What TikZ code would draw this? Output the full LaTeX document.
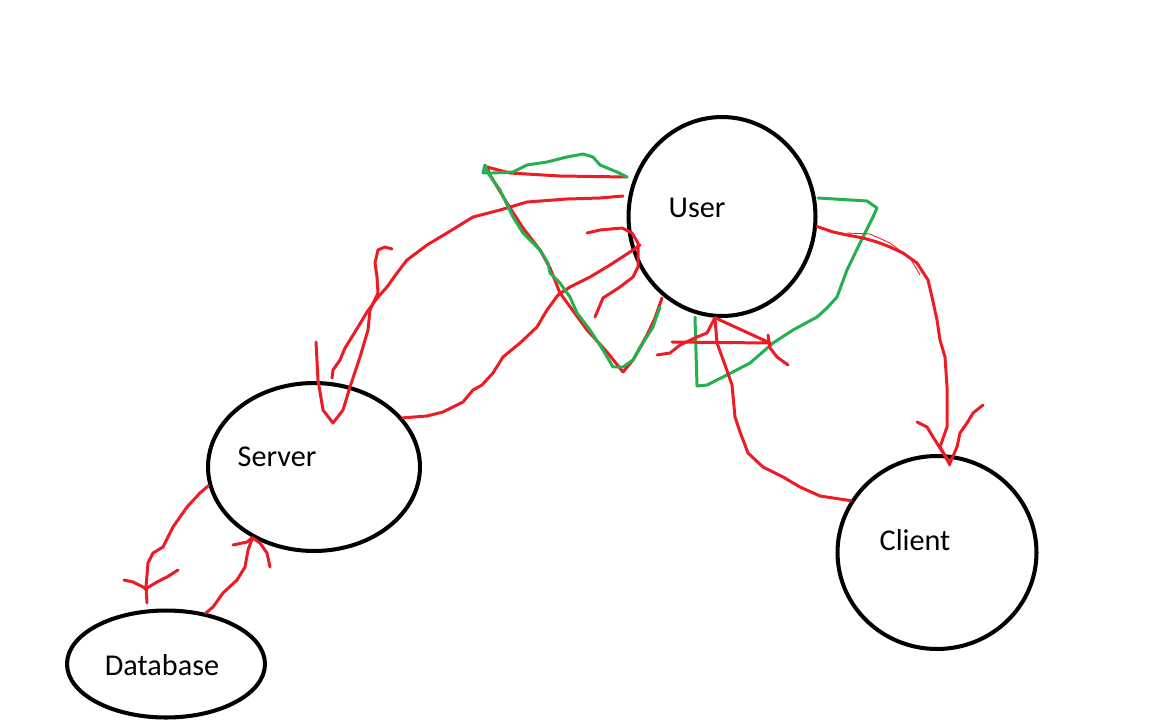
\documentclass[tikz,border=0pt]{standalone}
\usepackage{fontspec}
\setmainfont{Carlito}
\usetikzlibrary{shapes.geometric,positioning,calc}
\definecolor{paintred}{RGB}{237,28,36}
\definecolor{paintgreen}{RGB}{34,177,76}
\tikzset{
	%Define style for the bubbles
	ring/.style={
		ellipse,
		draw=black, line width=2.3pt,
		inner sep=0pt},
	mylabel/.style={inner sep=0pt, font=\fontsize{17.2}{21}\selectfont},
	% Define pen styles
	redpen/.style={draw=paintred, line width=1.7pt, line join=round, line cap=round},
	greenpen/.style={draw=paintgreen, line width=1.7pt, line join=round, line cap=round},
	hairpen/.style={draw=paintred, line width=0.5pt, line join=round}
}
\begin{document}
\begin{tikzpicture}[x=0.02cm,y=-0.02cm]
	\fill[white] (0,0) rectangle (1152,720);
	\useasboundingbox (0,0) rectangle (1152,720);
	% the bubbles
	\node[ring, minimum width=3.74cm, minimum height=3.98cm] (user) at (722,216.5) {};
	\node[ring, minimum width=4.24cm, minimum height=3.36cm] (server) at (314,467) {};
	\node[ring, minimum width=3.98cm, minimum height=3.86cm] (client) at (937,552.5) {};
	\node[ring, minimum width=3.96cm, minimum height=2.14cm] (database) at (166,664) {};
	\node[mylabel] (userlabel) at (697,208) {User};
	\node[mylabel] (serverlabel) at (277,457) {Server};
	\node[mylabel] (clientlabel) at (915,540) {Client};
	\node[mylabel] (databaselabel) at (162,665) {Database};
	% Server to Database
	\draw[redpen] (server.190) -- (200,493) -- (187,507) -- (173,527) -- (163,547) -- (153,553) -- (148,563) -- (146,587) -- (147,603);
	\draw[redpen] (124,580) -- (133,582) -- (143,587) -- (147,590);
	\draw[redpen] (178,570) -- (167,577) -- (157,582) -- (147,588);
	% Database to Server
	\draw[redpen] (database.52) -- (213,607) -- (223,593) -- (237,580) -- (245,567) -- (248,550) -- (server.229);
	\draw[redpen] (233,545) -- (247,542) -- (server.229);
	\draw[redpen] (270,567) -- (267,553) -- (260,543) -- (server.229);
	% User to Server
	\draw[redpen] (623,196) -- (600,198) -- (567,199) -- (527,202) -- (500,210) -- (473,217) -- (447,233) -- (427,245) -- (407,260) -- (397,273) -- (387,287) -- (378,297) -- (367,312) -- (358,327) -- (350,340) -- (345,348) -- (340,360) -- (333,370) -- (332,378);
	\draw[redpen] (316,342) -- (318,380) -- (323,410) -- (333,423) -- (343,410) -- (350,387) -- (360,357) -- (368,330) -- (370,310) -- (378,293) -- (377,277) -- (375,263) -- (378,250) -- (385,247) -- (392,249);
	% Server to User
	\draw[redpen] (server.29) -- (427,416) -- (443,412) -- (463,402) -- (473,390) -- (482,385) -- (493,373) -- (503,357) -- (520,343) -- (537,327) -- (547,310) -- (558,295) -- (570,287) -- (590,277) -- (610,265) -- (630,252) -- (640,245);
	\draw[redpen] (587,233) -- (600,230) -- (622,228) -- (632,233) -- (638,243) -- (638,267) -- (633,277) -- (620,287) -- (603,298) -- (595,317);
	% loop on the left of User
	\draw[redpen] (627,177) -- (560,176) -- (510,173) -- (487,167) -- (490,175) -- (507,203) -- (523,228) -- (540,250) -- (550,268) -- (560,293) -- (587,330) -- (607,352) -- (623,372) -- (633,360) -- (647,335) -- (655,318) -- (662,298);
	\draw[greenpen] (627,177) -- (617,172) -- (600,165) -- (593,157) -- (583,154) -- (567,157) -- (547,162) -- (527,165) -- (513,172) -- (493,173) -- (483,173) -- (485,165) -- (488,173) -- (500,190) -- (513,217) -- (523,233) -- (540,250) -- (548,263) -- (550,273) -- (560,283) -- (570,297) -- (577,313) -- (590,330) -- (603,350) -- (613,367) -- (623,367) -- (633,360) -- (643,343) -- (653,327) -- (660,307);
	% loop on the right of User
	\draw[greenpen] (818,198) -- (867,201) -- (877,208) -- (873,217) -- (860,243) -- (847,270) -- (837,297) -- (827,308) -- (817,317) -- (793,330) -- (773,343) -- (750,363) -- (727,375) -- (707,385) -- (697,386) -- (695,317);
	% arrow under User
	\draw[redpen] (user.266) -- (770,343) -- (672,342);
	\draw[redpen] (768,335) -- (770,348) -- (777,357) -- (788,365);
	\draw[redpen] (657,355) -- (670,353) -- (680,345) -- (697,337) -- (707,333) -- (user.266);
	% User to Client
	\draw[redpen] (user.266) -- (717,343) -- (725,365) -- (732,385) -- (735,417) -- (740,432) -- (748,453) -- (763,467) -- (783,477) -- (800,487) -- (820,496) -- (client.149);
	\draw[redpen] (user.354) -- (833,232) -- (847,235) -- (863,238) -- (877,242) -- (890,247) -- (903,253) -- (917,263) -- (928,280) -- (932,297) -- (937,320) -- (940,340) -- (945,357) -- (947,387) -- (947,427) -- (940,447) -- (950,465);
	\draw[hairpen] (847,233) -- (870,234) -- (890,243) -- (910,258) -- (920,275);
	\draw[redpen] (917,422) -- (927,427) -- (933,437) -- (940,448) -- (950,463);
	\draw[redpen] (983,405) -- (973,413) -- (967,423) -- (960,433) -- (957,447) -- (950,463);
\end{tikzpicture}
\end{document}
